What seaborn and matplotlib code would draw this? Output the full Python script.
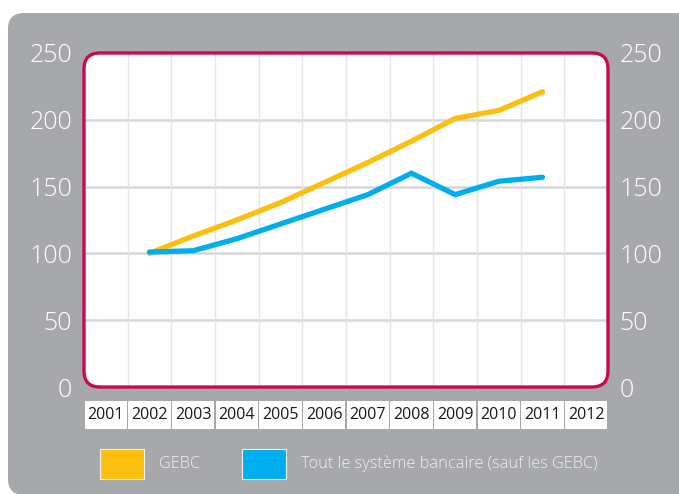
import numpy as np
import pandas as pd
import matplotlib
import matplotlib.pyplot as plt
from matplotlib.patches import FancyBboxPatch, Rectangle
from matplotlib.transforms import IdentityTransform, blended_transform_factory
import seaborn as sns

years = ['2001', '2002', '2003', '2004', '2005', '2006', '2007', '2008', '2009', '2010', '2011', '2012']
gebc = [np.nan, 100, 113, 125, 138, 153, 168, 184, 201, 207, 221, np.nan]
banks = [np.nan, 101, 102, 111, 122, 133, 144, 160, 144, 154, 157, np.nan]
series_names = ['GEBC', 'Tout le système bancaire (sauf les GEBC)']
colors = ['#FDBF0F', '#00AEEF']
y_ticks = [0, 50, 100, 150, 200, 250]

W, H = 679, 494
GRAY = '#A7A8AB'
BORDER = '#C8084F'

sns.set_style('white')
plt.rcParams['font.family'] = ['Open Sans', 'DejaVu Sans']

df = pd.DataFrame({'x': list(range(len(years))) * 2,
                   'value': gebc + banks,
                   'serie': [series_names[0]] * len(years) + [series_names[1]] * len(years)})

fig = plt.figure(figsize=(W / 100, H / 100), dpi=100)
fig.patch.set_facecolor('white')

# grey rounded panel behind everything (runs off the right and bottom edges)
panel = FancyBboxPatch((8, -1), 684, 482, boxstyle='round,pad=0,rounding_size=16',
                       transform=IdentityTransform(), facecolor=GRAY, edgecolor='none', zorder=-10)
fig.add_artist(panel)

left, right, top, bottom = 84, 608, 53, 387
ax = fig.add_axes([left / W, (H - bottom) / H, (right - left) / W, (bottom - top) / H])
ax.patch.set_visible(False)
for s in ax.spines.values():
    s.set_visible(False)

aspect = (right - left) / (bottom - top)
r = 16 / (right - left)
bg = FancyBboxPatch((0, 0), 1, 1, boxstyle=f'round,pad=0,rounding_size={r}', mutation_aspect=aspect,
                    transform=ax.transAxes, facecolor='white', edgecolor='none', zorder=0)
ax.add_patch(bg)

sns.lineplot(data=df, x='x', y='value', hue='serie', palette=colors, linewidth=3.8,
             legend=False, ax=ax, zorder=3, solid_capstyle='round', solid_joinstyle='miter')

ax.set_xlim(-0.5, len(years) - 0.5)
ax.set_ylim(0, 250)

# grid lines
for v in y_ticks[1:-1]:
    gl = ax.axhline(v, color='#D7D7D9', linewidth=1.8, zorder=1)
    gl.set_clip_path(bg)
for i in range(len(years) - 1):
    gl = ax.axvline(i + 0.5, color='#E5E5E6', linewidth=1.0, zorder=1)
    gl.set_clip_path(bg)

border = FancyBboxPatch((0, 0), 1, 1, boxstyle=f'round,pad=0,rounding_size={r}', mutation_aspect=aspect,
                        transform=ax.transAxes, facecolor='none', edgecolor=BORDER, linewidth=2.4,
                        zorder=5, clip_on=False)
ax.add_patch(border)

ax.set_yticks(y_ticks)
ax.set_yticklabels([str(v) for v in y_ticks])
ax.tick_params(axis='y', length=0, pad=8.5, labelsize=18, labelcolor='white',
               left=False, right=False, labelleft=True, labelright=True)
for lab in ax.get_yticklabels():
    lab.set_fontweight('light')
ax.set_xticks([])
ax.set_xlabel('')
ax.set_ylabel('')

# year boxes under the plot
trans = blended_transform_factory(ax.transData, ax.transAxes)
ph = bottom - top
for i, yr in enumerate(years):
    ax.add_patch(Rectangle((i - 0.5 + 0.012, -(429 - bottom) / ph), 0.976, (429 - 401) / ph,
                           transform=trans, facecolor='white', edgecolor='none', clip_on=False))
    ax.text(i, -(415 - bottom) / ph, yr, transform=trans, ha='center', va='center',
            fontsize=11.5, color='#1A1A1A', clip_on=False)

# legend
for (x0, name, c) in [(100, series_names[0], colors[0]), (242, series_names[1], colors[1])]:
    fig.add_artist(Rectangle((x0, H - 479), 44, 30, transform=IdentityTransform(),
                             facecolor=c, edgecolor='#F2F2F2', linewidth=0.8))
    fig.text((x0 + 59) / W, (H - 464) / H, name, ha='left', va='center', fontsize=11.8,
             color='#F0F0F0', fontweight='light')

fig.savefig('out.png', dpi=100)
